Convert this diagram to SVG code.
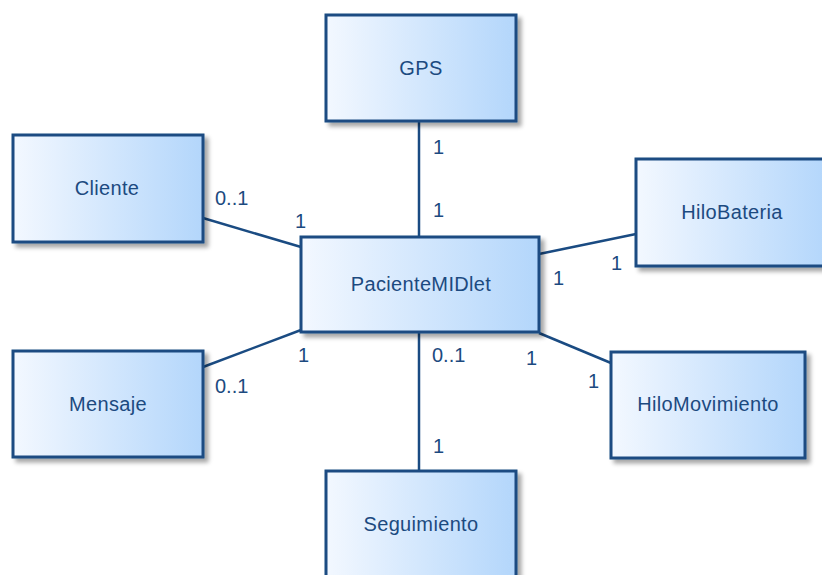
<svg xmlns="http://www.w3.org/2000/svg" width="822" height="575" viewBox="0 0 822 575">
  <style>
    .box { fill: url(#classFill); stroke: #1a4b82; stroke-width: 3; filter: url(#shadow); }
    .name { font-family: "Liberation Sans", Arial, sans-serif; font-size: 20px; letter-spacing: 0.35px; fill: #1c4a80; text-anchor: middle; }
    .mult { font-family: "Liberation Sans", Arial, sans-serif; font-size: 20px; fill: #1c4a80; }
    .assoc { stroke: #1a4b82; stroke-width: 2.5; fill: none; }
  </style>
  <defs>
    <linearGradient id="classFill" x1="0" y1="0" x2="1" y2="0">
      <stop offset="0" stop-color="#f3f8ff"/>
      <stop offset="1" stop-color="#b3d6fb"/>
    </linearGradient>
    <filter id="shadow" x="-10%" y="-10%" width="125%" height="130%">
      <feDropShadow dx="4" dy="4" stdDeviation="2" flood-color="#000" flood-opacity="0.35"/>
    </filter>
  </defs>
  <rect width="822" height="575" fill="#ffffff"/>

  <!-- associations -->
  <g id="connectors">
    <line class="assoc" x1="419" y1="121" x2="419" y2="237"/>
    <line class="assoc" x1="419" y1="332" x2="419" y2="471"/>
    <line class="assoc" x1="203" y1="218" x2="301" y2="247"/>
    <line class="assoc" x1="539" y1="254" x2="636" y2="234"/>
    <line class="assoc" x1="301" y1="330" x2="203" y2="367"/>
    <line class="assoc" x1="539" y1="333" x2="611" y2="363"/>
    <!-- multiplicities -->
    <text class="mult" x="433" y="154">1</text>
    <text class="mult" x="433" y="217">1</text>
    <text class="mult" x="215" y="205">0..1</text>
    <text class="mult" x="295" y="228">1</text>
    <text class="mult" x="553" y="285">1</text>
    <text class="mult" x="611" y="270">1</text>
    <text class="mult" x="298" y="362">1</text>
    <text class="mult" x="215" y="393">0..1</text>
    <text class="mult" x="432" y="362">0..1</text>
    <text class="mult" x="526" y="365">1</text>
    <text class="mult" x="588" y="388">1</text>
    <text class="mult" x="433" y="453">1</text>
  </g>

  <g id="GPS">
    <rect class="box" x="326" y="15" width="190" height="106"/>
    <text class="name" x="421" y="75">GPS</text>
  </g>
  <g id="Cliente">
    <rect class="box" x="13" y="135" width="190" height="107"/>
    <text class="name" x="107" y="195">Cliente</text>
  </g>
  <g id="HiloBateria">
    <rect class="box" x="636" y="159" width="192" height="107"/>
    <text class="name" x="732" y="219">HiloBateria</text>
  </g>
  <g id="PacienteMIDlet">
    <rect class="box" x="301" y="237" width="238" height="95"/>
    <text class="name" x="421" y="291">PacienteMIDlet</text>
  </g>
  <g id="Mensaje">
    <rect class="box" x="13" y="351" width="190" height="106"/>
    <text class="name" x="108" y="411">Mensaje</text>
  </g>
  <g id="HiloMovimiento">
    <rect class="box" x="611" y="352" width="194" height="106"/>
    <text class="name" x="708" y="411">HiloMovimiento</text>
  </g>
  <g id="Seguimiento">
    <rect class="box" x="326" y="471" width="190" height="107"/>
    <text class="name" x="421" y="531">Seguimiento</text>
  </g>
</svg>
